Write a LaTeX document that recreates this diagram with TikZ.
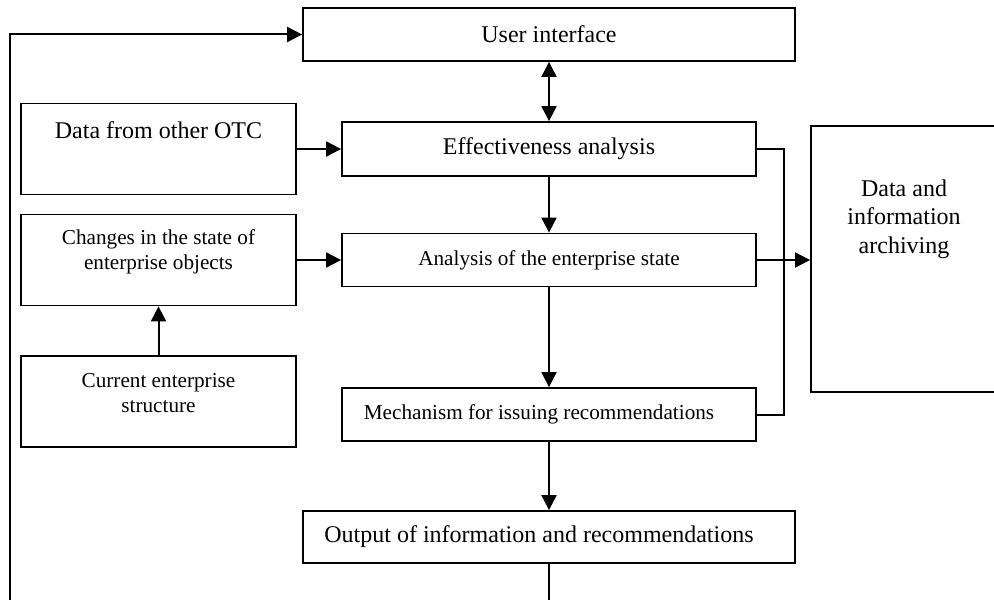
\documentclass[tikz,border=0pt]{standalone}
\usepackage{fontspec}
\setmainfont{Liberation Serif}
\usetikzlibrary{arrows.meta}
\begin{document}
\begin{tikzpicture}[x=0.5pt,y=-0.5pt,
  box/.style={draw, line width=0.9pt, rectangle, inner sep=0pt, align=center},
  big/.style={font=\fontsize{12}{14.2}\selectfont},
  small/.style={font=\fontsize{10.6}{12.5}\selectfont},
  toplabel/.style={anchor=north, inner sep=0pt, align=center},
  conn/.style={line width=1pt},
  arr/.style={conn, -{Triangle[length=7.5pt,width=7.5pt]}},
  dbl/.style={conn, {Triangle[length=7.5pt,width=7.5pt]}-{Triangle[length=7.5pt,width=7.5pt]}}]
\useasboundingbox (0,0) rectangle (994,599);

% boxes
\node[box,big,minimum width=246pt,minimum height=26.5pt] (ui) at (549,34.5) {User interface};
\node[box,minimum width=137.5pt,minimum height=45.5pt,
  label={[toplabel,big,yshift=-9.5pt]north:Data from other OTC}] (otc) at (158.5,149) {};
\node[box,minimum width=137.5pt,minimum height=45.5pt,
  label={[toplabel,small,yshift=-8pt]north:Changes in the state of\\enterprise objects}] (chg) at (158.5,260) {};
\node[box,minimum width=137.5pt,minimum height=45.5pt,
  label={[toplabel,small,yshift=-9pt]north:Current enterprise\\structure}] (cur) at (158.5,401.5) {};
\node[box,big,minimum width=207pt,minimum height=27pt] (eff) at (549,149) {Effectiveness analysis};
\node[box,small,minimum width=207pt,minimum height=26.5pt] (ana) at (549,260) {Analysis of the enterprise state};
\node[box,small,minimum width=207pt,minimum height=26.5pt] (mech) at (549,414.5) {\hspace*{-10pt}Mechanism for issuing recommendations};
\node[box,big,minimum width=246pt,minimum height=26pt] (out) at (549,537) {\hspace*{-10pt}Output of information and recommendations};
\node[box,minimum width=93pt,minimum height=133pt,
  label={[toplabel,font=\fontsize{12}{14.25}\selectfont,yshift=-27pt]north:Data and\\information\\archiving}] (arch) at (904,259) {};

% free ends
\coordinate (botL) at (10,600);
\coordinate (botM) at (549,600);
\coordinate (brk) at (784,149);

% connectors
\draw[arr] (botL) |- (ui.west);
\draw[dbl] (ui.south) -- (eff.north);
\draw[arr] (eff.south) -- (ana.north);
\draw[arr] (ana.south) -- (mech.north);
\draw[arr] (mech.south) -- (out.north);
\draw[conn] (out.south) -- (botM);
\draw[arr] (otc.east) -- (eff.west);
\draw[arr] (chg.east) -- (ana.west);
\draw[arr] (cur.north) -- (chg.south);
\draw[conn] (eff.east) -- (brk) |- (mech.east);
\draw[arr] (ana.east) -- (ana.east -| arch.west);
\end{tikzpicture}
\end{document}
